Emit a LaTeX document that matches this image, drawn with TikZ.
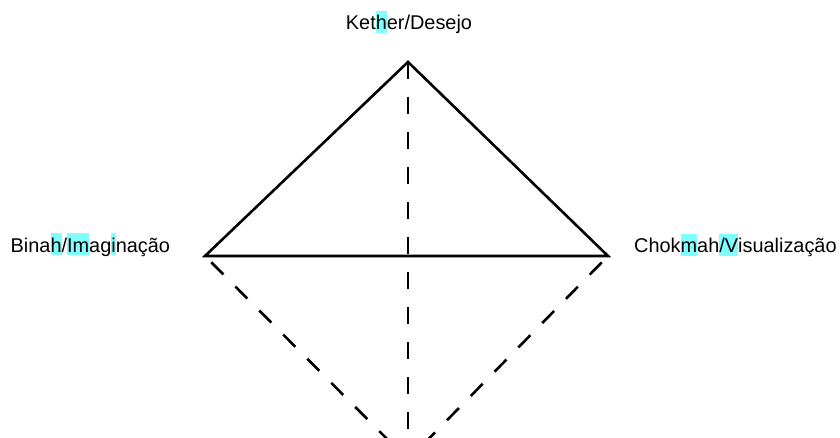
\documentclass[tikz,border=0pt]{standalone}
\usepackage{fontspec}
\setmainfont{Liberation Sans}
\definecolor{hlcyan}{RGB}{128,255,255}
\newcommand\hlt[1]{{\setlength{\fboxsep}{0pt}\colorbox{hlcyan}{\rule[-0.17em]{0pt}{1.14em}#1}}}
\begin{document}
\begin{tikzpicture}[x=1pt,y=-1pt,
  lbl/.style={inner sep=0pt,font=\fontsize{19.9}{24}\selectfont},
  solidedge/.style={line width=2.6pt,line join=miter},
  diagdash/.style={line width=2.6pt,dash pattern=on 17pt off 17pt,dash phase=25pt},
  vertdash/.style={line width=2.6pt,dash pattern=on 17pt off 18pt}]
\path[use as bounding box] (0,0) rectangle (840,438);
\clip (0,0) rectangle (840,438);
\coordinate (A) at (408,62);
\coordinate (L) at (205,256);
\coordinate (R) at (608,256);
\coordinate (B) at (408,460);
\node[lbl,anchor=base] (kether) at (409,30) {Ket\hlt{h}er/Desejo};
\node[lbl,anchor=base west] (binah) at (10.5,252) {Bina\hlt{h}/\hlt{Im}ag\hlt{i}nação};
\node[lbl,anchor=base west] (chokmah) at (634,253) {Chok\hlt{m}ah\hlt{/V}isualização};
\draw[vertdash] (A) -- (B);
\draw[diagdash] (L) -- (B);
\draw[diagdash] (R) -- (B);
\draw[solidedge] (L) -- (A) -- (R) -- cycle;
\end{tikzpicture}
\end{document}
